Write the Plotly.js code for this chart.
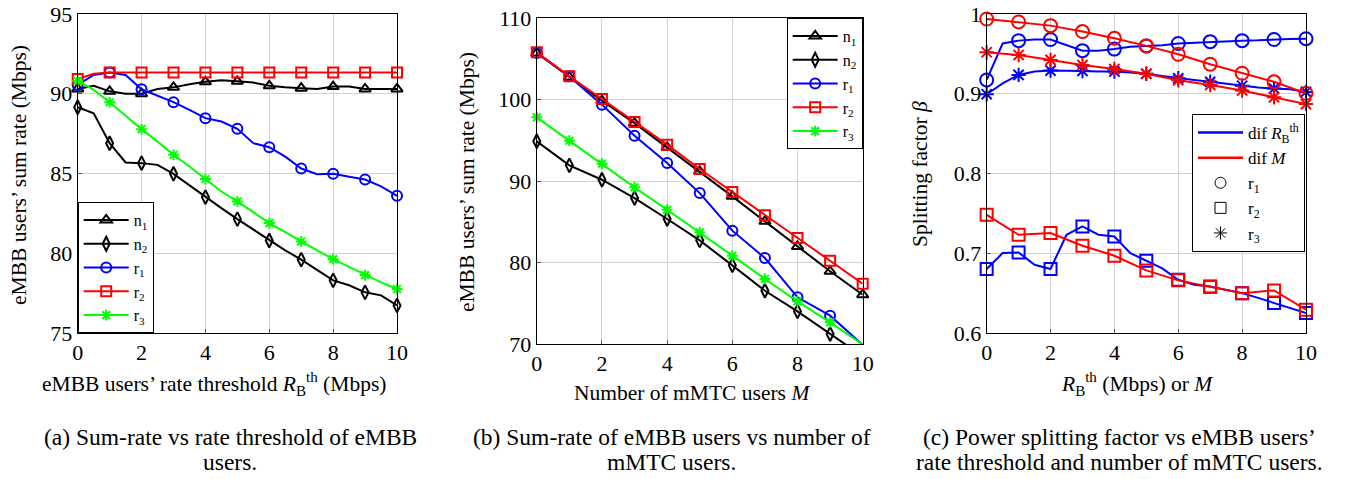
<!DOCTYPE html>
<html>
<head>
<meta charset="utf-8">
<script src="https://cdn.plot.ly/plotly-3.0.1.min.js"></script>
<style>html,body{margin:0;padding:0;background:#fff;}#chart{width:1349px;height:479px;}</style>
</head>
<body>
<div id="chart"></div>
<script>
// ---------- data ----------
const xHalf = [0,0.5,1,1.5,2,2.5,3,3.5,4,4.5,5,5.5,6,6.5,7,7.5,8,8.5,9,9.5,10];
const xInt = [0,1,2,3,4,5,6,7,8,9,10];
const seriesNames = ['n<sub>1</sub>','n<sub>2</sub>','r<sub>1</sub>','r<sub>2</sub>','r<sub>3</sub>'];

// (a) sum rate vs rate threshold R_B^th (Mbps)
const a_n1 = [90.3,90.5,90.15,90.0,90.0,90.3,90.4,90.6,90.75,90.85,90.78,90.7,90.5,90.4,90.35,90.3,90.45,90.45,90.3,90.3,90.3];
const a_n2 = [89.15,88.78,86.9,85.69,85.65,85.54,84.98,84.25,83.52,82.83,82.14,81.47,80.8,80.18,79.6,78.93,78.3,77.99,77.55,77.36,76.73];
const a_r1 = [90.55,91.18,91.33,91.18,90.28,89.86,89.47,88.99,88.47,88.26,87.8,86.9,86.65,86.06,85.31,84.96,84.98,84.8,84.62,84.19,83.6];
const a_r2 = [90.93,91.25,91.33,91.33,91.33,91.33,91.33,91.33,91.33,91.33,91.33,91.33,91.33,91.33,91.33,91.33,91.33,91.33,91.33,91.33,91.33];
const a_r3 = [90.8,90.24,89.47,88.61,87.78,87.0,86.17,85.44,84.65,83.87,83.25,82.58,81.89,81.33,80.74,80.18,79.63,79.13,78.63,78.17,77.76];

// (b) sum rate vs number of mMTC users M
const b_n1 = [105.7,102.76,99.86,97.1,94.13,91.19,88.12,85.05,81.98,78.92,76.05];
const b_n2 = [94.87,91.92,90.16,87.91,85.34,82.72,79.65,76.54,74.0,71.23,68.5];
const b_r1 = [105.7,102.84,99.37,95.56,92.2,88.52,83.91,80.55,75.73,73.48,69.9];
const b_r2 = [105.79,102.84,100.06,97.24,94.46,91.47,88.65,85.79,83.0,80.22,77.4];
const b_r3 = [97.81,94.95,92.13,89.22,86.48,83.7,80.84,77.98,75.24,72.66,69.95];

// (c) splitting factor beta; "dif R" over xHalf, "dif M" over xInt
const c_r1_R = [0.9173,0.963,0.9666,0.968,0.968,0.961,0.954,0.954,0.956,0.959,0.96,0.9607,0.963,0.964,0.9653,0.966,0.9666,0.967,0.968,0.9687,0.969];
const c_r2_R = [0.6802,0.7002,0.701,0.6856,0.6802,0.7232,0.7336,0.7232,0.721,0.7002,0.6906,0.681,0.6668,0.6605,0.6584,0.6543,0.65,0.644,0.6376,0.6313,0.625];
const c_r3_R = [0.8994,0.913,0.9236,0.9278,0.929,0.929,0.9286,0.928,0.9278,0.9265,0.925,0.9223,0.9194,0.9173,0.915,0.9123,0.91,0.9077,0.9065,0.9056,0.9023];
const c_r1_M = [0.9937,0.99,0.9854,0.978,0.9695,0.96,0.9495,0.937,0.9257,0.915,0.9006];
const c_r2_M = [0.7482,0.7232,0.7253,0.7094,0.6969,0.6785,0.666,0.6576,0.65,0.6534,0.6292];
const c_r3_M = [0.952,0.9486,0.9424,0.936,0.931,0.925,0.917,0.911,0.904,0.8956,0.887];

// ---------- styling ----------
const FONT = 'Liberation Serif, Times New Roman, serif';
const BLUE = '#0000ff', RED = '#ff0000', GREEN = '#00ff00', BLACK = '#000000';
const CLEAR = 'rgba(0,0,0,0)';
const ranges = {1: [75, 95], 2: [70, 110], 3: [0.6, 1]};

function markerColors(xs, ys, color, yr) {
  return xs.map((x, i) => (Number.isInteger(x) && ys[i] >= yr[0] && ys[i] <= yr[1]) ? color : CLEAR);
}
function series(xs, ys, ax, name, color, symbol, size, legend, showlegend) {
  const mc = markerColors(xs, ys, color, ranges[ax]);
  const sfx = ax === 1 ? '' : String(ax);
  return {
    type: 'scatter', mode: 'lines+markers', x: xs, y: ys, name: name,
    xaxis: 'x' + sfx, yaxis: 'y' + sfx,
    line: {color: color, width: 2},
    marker: {symbol: symbol, size: size, color: mc, line: {color: mc, width: 2}},
    cliponaxis: false, legend: legend, showlegend: showlegend, hoverinfo: 'x+y'
  };
}

const traces = [];
// (a)
traces.push(series(xHalf, a_n1, 1, seriesNames[0], BLACK, 'triangle-up-open', 10, 'legend', true));
traces.push(series(xHalf, a_n2, 1, seriesNames[1], BLACK, 'diamond-tall-open', 10, 'legend', true));
traces.push(series(xHalf, a_r1, 1, seriesNames[2], BLUE, 'circle-open', 10, 'legend', true));
traces.push(series(xHalf, a_r2, 1, seriesNames[3], RED, 'square-open', 10, 'legend', true));
traces.push(series(xHalf, a_r3, 1, seriesNames[4], GREEN, 'asterisk-open', 9, 'legend', true));
// (b)
traces.push(series(xInt, b_n1, 2, seriesNames[0], BLACK, 'triangle-up-open', 10, 'legend2', true));
traces.push(series(xInt, b_n2, 2, seriesNames[1], BLACK, 'diamond-tall-open', 10, 'legend2', true));
traces.push(series(xInt, b_r1, 2, seriesNames[2], BLUE, 'circle-open', 10, 'legend2', true));
traces.push(series(xInt, b_r2, 2, seriesNames[3], RED, 'square-open', 10, 'legend2', true));
traces.push(series(xInt, b_r3, 2, seriesNames[4], GREEN, 'asterisk-open', 9, 'legend2', true));
// (c)
traces.push(series(xHalf, c_r1_R, 3, 'r1 dif R', BLUE, 'circle-open', 13, 'legend3', false));
traces.push(series(xHalf, c_r2_R, 3, 'r2 dif R', BLUE, 'square-open', 12, 'legend3', false));
traces.push(series(xHalf, c_r3_R, 3, 'r3 dif R', BLUE, 'asterisk-open', 12, 'legend3', false));
traces.push(series(xInt, c_r1_M, 3, 'r1 dif M', RED, 'circle-open', 13, 'legend3', false));
traces.push(series(xInt, c_r2_M, 3, 'r2 dif M', RED, 'square-open', 12, 'legend3', false));
traces.push(series(xInt, c_r3_M, 3, 'r3 dif M', RED, 'asterisk-open', 12, 'legend3', false));
// (c) legend keys
function key(name, mode, color, symbol) {
  return {type: 'scatter', x: [null], y: [null], xaxis: 'x3', yaxis: 'y3', name: name, mode: mode,
    line: {color: color, width: 2.5}, marker: {symbol: symbol || 'circle', size: 11, color: BLACK, line: {color: BLACK, width: 1}},
    legend: 'legend3', showlegend: true, hoverinfo: 'skip'};
}
traces.push(key('dif <i>R</i><sub>B</sub><sup>th</sup>', 'lines', BLUE));
traces.push(key('dif <i>M</i>', 'lines', RED));
traces.push(key(seriesNames[2], 'markers', BLACK, 'circle-open'));
traces.push(key(seriesNames[3], 'markers', BLACK, 'square-open'));
traces.push(key(seriesNames[4], 'markers', BLACK, 'asterisk-open'));

function axisBase(extra) {
  return Object.assign({
    showline: true, mirror: true, linecolor: BLACK, linewidth: 1,
    showgrid: true, gridcolor: '#d2d2d2', gridwidth: 1, zeroline: false,
    ticks: 'inside', ticklen: 4, tickcolor: '#555', tickwidth: 1,
    tickfont: {family: FONT, size: 22, color: BLACK}, fixedrange: true
  }, extra);
}
function legendBase(extra) {
  return Object.assign({
    bgcolor: '#ffffff', bordercolor: BLACK, borderwidth: 1, itemwidth: 45,
    font: {family: FONT, size: 16, color: BLACK}, tracegroupgap: 0, itemclick: false
  }, extra);
}
function ann(text, x, y, size, angle) {
  return {text: text, x: x, y: y, xref: 'paper', yref: 'paper', showarrow: false,
    xanchor: 'center', yanchor: 'middle', textangle: angle || 0,
    font: {family: FONT, size: size, color: BLACK}};
}
const TS = 21.5, CS = 23.5;
const cap1 = 1 - 437 / 479, cap2 = 1 - 462 / 479;

const layout = {
  width: 1349, height: 479, margin: {l: 0, r: 0, t: 0, b: 0},
  paper_bgcolor: '#ffffff', plot_bgcolor: '#ffffff', font: {family: FONT, color: BLACK},
  xaxis: axisBase({domain: [0.0576, 0.2943], range: [0, 10], dtick: 2, tick0: 0, anchor: 'y'}),
  yaxis: axisBase({domain: [0.3048, 0.9708], range: ranges[1], dtick: 5, tick0: 75, anchor: 'x'}),
  xaxis2: axisBase({domain: [0.3979, 0.6395], range: [0, 10], dtick: 2, tick0: 0, anchor: 'y2'}),
  yaxis2: axisBase({domain: [0.2818, 0.9624], range: ranges[2], dtick: 10, tick0: 70, anchor: 'x2'}),
  xaxis3: axisBase({domain: [0.7314, 0.9681], range: [0, 10], dtick: 2, tick0: 0, anchor: 'y3'}),
  yaxis3: axisBase({domain: [0.3048, 0.9708], range: ranges[3], dtick: 0.1, tick0: 0.6, anchor: 'x3'}),
  legend: legendBase({x: 0.0576, y: 0.3048, xanchor: 'left', yanchor: 'bottom'}),
  legend2: legendBase({x: 0.6395, y: 0.9624, xanchor: 'right', yanchor: 'top'}),
  legend3: legendBase({x: 0.9674, y: 0.762, xanchor: 'right', yanchor: 'top', font: {family: FONT, size: 17, color: BLACK}}),
  annotations: [
    ann('eMBB users’ sum rate (Mbps)', 0.0141, 0.6347, TS, -90),
    ann('eMBB users’ sum rate (Mbps)', 0.3462, 0.62, TS, -90),
    ann('Splitting factor <i>β</i>', 0.682, 0.6367, TS, -90),
    ann('eMBB users’ rate threshold <i>R</i><sub>B</sub><sup>th</sup> (Mbps)', 0.1586, 0.1983, TS),
    ann('Number of mMTC users <i>M</i>', 0.513, 0.1795, TS),
    ann('<i>R</i><sub>B</sub><sup>th</sup> (Mbps) or <i>M</i>', 0.8428, 0.1983, TS),
    ann('(a) Sum-rate vs rate threshold of eMBB', 0.1705, cap1, CS),
    ann('users.', 0.1705, cap2, CS),
    ann('(b) Sum-rate of eMBB users vs number of', 0.498, cap1, CS),
    ann('mMTC users.', 0.498, cap2, CS),
    ann('(c) Power splitting factor vs eMBB users’', 0.830, cap1, CS),
    ann('rate threshold and number of mMTC users.', 0.830, cap2, CS)
  ]
};

Plotly.newPlot('chart', traces, layout, {displayModeBar: false, staticPlot: true});
</script>
</body>
</html>
